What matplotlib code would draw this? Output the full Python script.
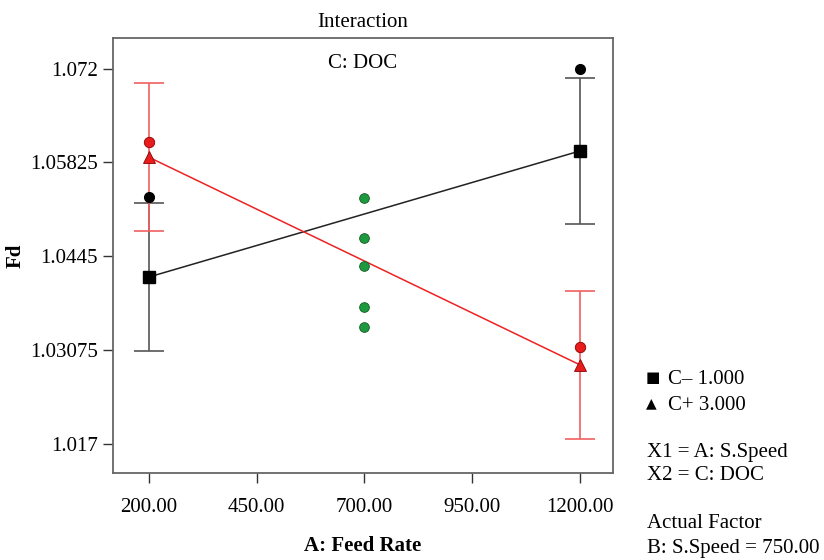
#!/usr/bin/env python3

import matplotlib
matplotlib.use('Agg')
import matplotlib.pyplot as plt

plt.rcParams['font.family'] = ['Liberation Serif', 'DejaVu Sans']

# factor levels
feed = [200.0, 1200.0]
xticks = [200.0, 450.0, 700.0, 950.0, 1200.0]
yticks = [1.017, 1.03075, 1.0445, 1.05825, 1.072]

# predicted means and error bar half-widths
c_low = [1.04146, 1.05992]
c_low_err = [0.01085, 0.01075]
c_high = [1.05900, 1.02860]
c_high_err = [0.01085, 0.01080]

# design points
c_low_pts_x = [200.0, 1200.0]
c_low_pts_y = [1.05313, 1.07200]
c_high_pts_x = [200.0, 1200.0]
c_high_pts_y = [1.06119, 1.03125]
center_x = [700.0, 700.0, 700.0, 700.0, 700.0]
center_y = [1.05308, 1.04713, 1.04311, 1.03711, 1.03418]

fig = plt.figure(figsize=(8.24, 5.6), dpi=100)
ax = fig.add_axes([113/824, 1 - 473/560, 500/824, 435/560])

# error bars
ax.errorbar(feed, c_low, yerr=c_low_err, fmt='none', ecolor='#555555',
            elinewidth=1.2, capsize=11, capthick=1.2, zorder=2)
ax.errorbar(feed, c_high, yerr=c_high_err, fmt='none', ecolor='#f06060',
            elinewidth=1.2, capsize=11, capthick=1.2, zorder=2)

# interaction lines
ax.plot(feed, c_low, color='#222222', lw=1.1, zorder=3)
ax.plot(feed, c_high, color='#ee2222', lw=1.1, zorder=3)
ax.plot(feed, c_low, 's', color='black', ms=8, zorder=4)
ax.plot(feed, c_high, '^', color='#e81c1c', mec='#8a0000', mew=0.6, ms=9, zorder=4)

# design points
ax.plot(c_low_pts_x, c_low_pts_y, 'o', color='black', ms=7, zorder=4)
ax.plot(c_high_pts_x, c_high_pts_y, 'o', color='#e81c1c', mec='#8a0000',
        mew=0.6, ms=7.5, zorder=4)
ax.plot(center_x, center_y, 'o', color='#1e9a3e', mec='#145a25',
        mew=0.6, ms=7, zorder=4)

ax.set_xlim(116.5, 1277)
ax.set_ylim(1.01275, 1.07647)
ax.set_xticks(xticks)
ax.set_xticklabels(['%.2f' % v for v in xticks])
ax.set_yticks(yticks)
ax.set_yticklabels(['1.017', '1.03075', '1.0445', '1.05825', '1.072'])
ax.tick_params(direction='out', length=7, width=1, labelsize=15,
               colors='#333333', labelcolor='black')
ax.tick_params(axis='x', pad=11)
ax.tick_params(axis='y', pad=4)
for s in ax.spines.values():
    s.set_color('#666666')
    s.set_linewidth(1.3)

ax.set_title('Interaction', fontsize=15, pad=8)
ax.text(0.5, 0.963, 'C: DOC', transform=ax.transAxes, ha='center',
        va='top', fontsize=15)
ax.set_xlabel('A: Feed Rate', fontsize=15, fontweight='bold', labelpad=14)
ax.set_ylabel('Fd', fontsize=15, fontweight='bold')
ax.yaxis.set_label_coords((26 - 113) / 500, 0.5)

# side annotations
fig.text(646/824, 1 - 378/560, '\u25a0', fontsize=11, va='center',
         family=['DejaVu Sans'])
fig.text(668/824, 1 - 380/560, 'C\u2013 1.000', fontsize=15, va='center')
fig.text(646/824, 1 - 403/560, '\u25b2', fontsize=10, va='center',
         family=['DejaVu Sans'])
fig.text(668/824, 1 - 405/560, 'C+ 3.000', fontsize=15, va='center')
fig.text(647/824, 1 - 452/560, 'X1 = A: S.Speed', fontsize=15, va='center')
fig.text(647/824, 1 - 475/560, 'X2 = C: DOC', fontsize=15, va='center')
fig.text(647/824, 1 - 524/560, 'Actual Factor', fontsize=15, va='center')
fig.text(647/824, 1 - 548/560, 'B: S.Speed = 750.00', fontsize=15, va='center')

fig.savefig('out.png', dpi=100)
